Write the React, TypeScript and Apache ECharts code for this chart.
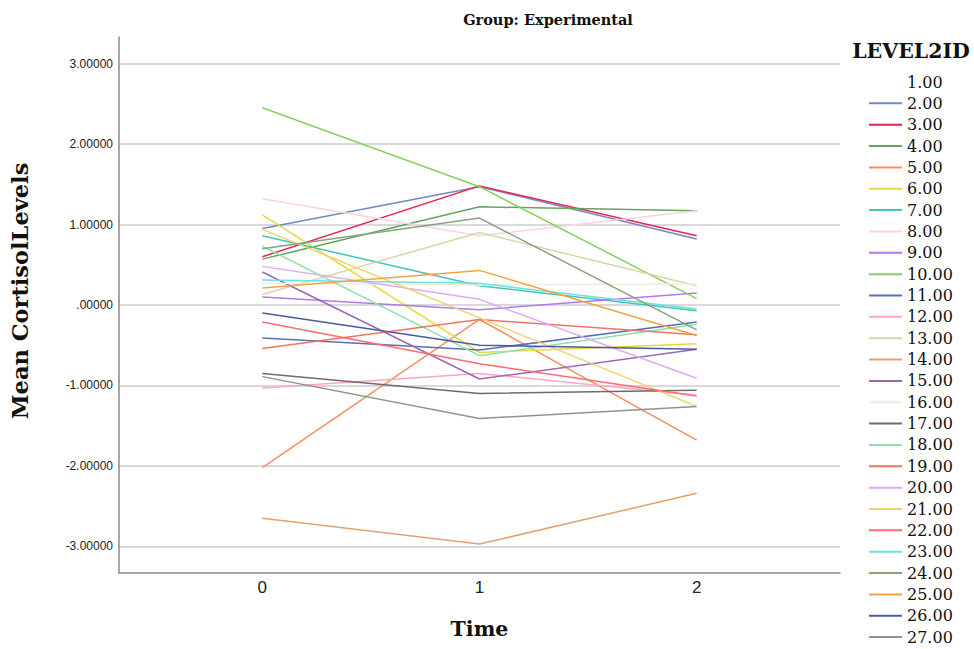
import React, { useEffect, useRef } from "react";
import * as echarts from "echarts";

const times = [0, 1, 2];
const yTicks = [-3, -2, -1, 0, 1, 2, 3];
const xTicks = [0, 1, 2];

const ids = ["1.00","2.00","3.00","4.00","5.00","6.00","7.00","8.00","9.00","10.00","11.00","12.00","13.00","14.00","15.00","16.00","17.00","18.00","19.00","20.00","21.00","22.00","23.00","24.00","25.00","26.00","27.00"];

const values: (number[] | null)[] = [
  null,
  [0.95, 1.47, 0.82],
  [0.60, 1.48, 0.86],
  [0.57, 1.22, 1.17],
  [-2.02, -0.18, -1.68],
  [1.12, -0.59, -0.48],
  [0.86, 0.24, -0.07],
  [1.32, 0.86, 1.17],
  [0.10, -0.06, 0.15],
  [2.45, 1.47, 0.08],
  [-0.41, -0.56, -0.21],
  [-1.03, -0.85, -1.12],
  [0.13, 0.90, 0.24],
  [-2.65, -2.97, -2.34],
  [0.41, -0.92, -0.55],
  [0.27, 0.25, 0.26],
  [-0.85, -1.10, -1.06],
  [0.73, -0.63, -0.24],
  [-0.54, -0.18, -0.37],
  [0.48, 0.07, -0.91],
  [0.94, -0.16, -1.26],
  [-0.21, -0.73, -1.13],
  [0.31, 0.27, -0.05],
  [0.70, 1.08, -0.31],
  [0.21, 0.43, -0.38],
  [-0.10, -0.50, -0.55],
  [-0.89, -1.41, -1.26],
];

const colors = [
  "rgba(0,0,0,0)",
  "#7386c6", "#e3264f", "#62a65c", "#f7905f", "#e6d93a", "#3fc6b6", "#fbd3df",
  "#b279f0", "#86d062", "#5a70b0", "#ffa6c6", "#dcd5a6", "#e6a06e", "#9a69b2",
  "#efebdf", "#6c6c6c", "#90dfaa", "#ee7660", "#dfa9f0", "#eed466", "#fd6c70",
  "#6fdfe0", "#8aa17e", "#efa43e", "#4a5aa2", "#8d948d",
];

const serif = "DejaVu Serif";
const sans = "Liberation Sans";

export default function App() {
  const ref = useRef<HTMLDivElement>(null);
  useEffect(() => {
    const chart = echarts.init(ref.current!, null, { renderer: "svg" });
    const series = ids.map((id, i) => ({
      name: id,
      type: "line",
      data: values[i] ? times.map((t, j) => [t, (values[i] as number[])[j]]) : [],
      symbol: "none",
      color: colors[i],
      lineStyle: { color: colors[i], width: 1.5 },
      silent: true,
    }));
    chart.setOption({
      animation: false,
      backgroundColor: "#ffffff",
      title: [
        {
          text: "Group: Experimental",
          left: 543,
          top: 7,
          textAlign: "center",
          textStyle: { fontFamily: serif, fontWeight: "bold", fontSize: 14.5, color: "#111" },
        },
        {
          text: "LEVEL2ID",
          left: 906,
          top: 35,
          textAlign: "center",
          textStyle: { fontFamily: serif, fontWeight: "bold", fontSize: 20.5, color: "#111" },
        },
      ],
      graphic: [
        {
          type: "text",
          x: 20,
          y: 291,
          rotation: Math.PI / 2,
          style: {
            text: "Mean CortisolLevels",
            fontFamily: serif,
            fontWeight: "bold",
            fontSize: 22.5,
            fill: "#111",
            align: "center",
            verticalAlign: "middle",
          },
        },
      ],
      legend: {
        orient: "vertical",
        left: 869,
        top: 74,
        padding: 0,
        icon: "rect",
        itemWidth: 33,
        itemHeight: 2,
        itemGap: 5.35,
        data: ids,
        selectedMode: false,
        textStyle: { fontFamily: serif, fontSize: 16, color: "#111", lineHeight: 16 },
      },
      grid: { left: 119, top: 37, width: 721, bottom: 76 },
      xAxis: {
        type: "value",
        min: -0.66,
        max: 2.66,
        name: "Time",
        nameLocation: "middle",
        nameGap: 45,
        nameTextStyle: { fontFamily: serif, fontWeight: "bold", fontSize: 20.5, color: "#111" },
        axisLine: { show: true, onZero: false, lineStyle: { color: "#8a8a8a", width: 1.5 } },
        axisTick: { show: false, customValues: xTicks },
        axisLabel: {
          customValues: xTicks,
          fontFamily: sans,
          fontSize: 17,
          color: "#222",
          margin: 6,
        },
        splitLine: { show: false },
      },
      yAxis: {
        type: "value",
        min: -3.33,
        max: 3.33,
        axisLine: { show: true, onZero: false, lineStyle: { color: "#8a8a8a", width: 1.5 } },
        axisTick: { show: false, customValues: yTicks },
        axisLabel: {
          customValues: yTicks,
          fontFamily: sans,
          fontSize: 12,
          color: "#222",
          margin: 6,
          formatter: (v: number) => {
            const s = v.toFixed(5);
            return s === "0.00000" ? ".00000" : s;
          },
        },
        splitLine: { show: true, lineStyle: { color: "#cccccc", width: 1.5 } },
      },
      series,
    });
    return () => chart.dispose();
  }, []);
  return (
    <div
      ref={ref}
      style={{ position: "fixed", left: 0, top: 0, width: 974, height: 649 }}
    />
  );
}
